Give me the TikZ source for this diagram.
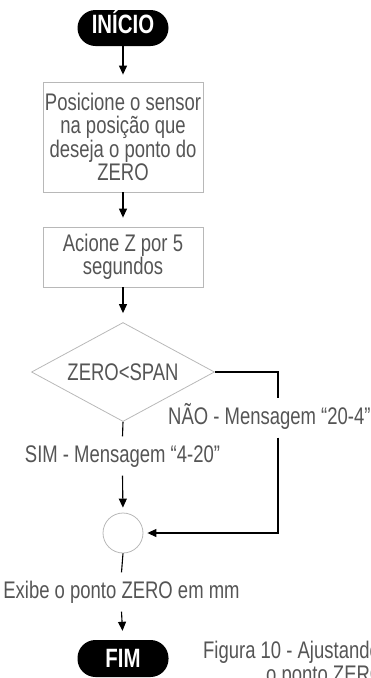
\documentclass[tikz,border=0pt]{standalone}
\usepackage{fontspec}
\setmainfont{Liberation Sans}[FakeStretch=0.77]
\usetikzlibrary{arrows.meta,shapes.geometric}

\definecolor{txtgray}{HTML}{555555}
\definecolor{edgegray}{HTML}{B8B8B8}

\begin{document}
\begin{tikzpicture}[x=1pt,y=-1pt,
  every node/.style={font=\fontsize{24}{23.5}\selectfont, text=txtgray},
  terminal/.style={fill=black, rounded corners=18pt, minimum width=91pt,
    inner sep=0pt, text=white, font=\fontsize{26.5}{26.5}\selectfont\bfseries},
  process/.style={draw=edgegray, line width=0.8pt, minimum width=160pt,
    align=center, inner sep=0pt},
  decision/.style={diamond, draw=edgegray, line width=0.8pt, aspect=1.85,
    minimum width=183pt, minimum height=99pt, inner sep=0pt},
  junction/.style={circle, draw=edgegray, line width=0.8pt, minimum size=40pt,
    inner sep=0pt},
  lbl/.style={inner xsep=0pt, inner ysep=8.5pt, text height=17pt, text depth=5pt,
    fill=white},
  link/.style={draw=black, line width=1.1pt},
  flow/.style={link, -{Triangle[width=8pt,length=9pt]}}
]
\useasboundingbox (0,0) rectangle (371,678);
\clip (0,0) rectangle (371,678);

% steps
\node[terminal, text height=23pt, text depth=13pt] (start) at (123,28) {INÍCIO};
\node[process, minimum height=110pt] (pos) at (123,137)
  {Posicione o sensor\\na posição que\\deseja o ponto do\\ZERO};
\node[process, minimum height=60pt] (act) at (123,257) {Acione Z por 5\\segundos};
\node[decision, text height=17pt, text depth=0pt] (dec) at (123,372) {ZERO<SPAN};
\node[lbl, anchor=base] (sim) at (122.5,462) {SIM - Mensagem “4-20”};
\node[lbl, anchor=base west] (nao) at (168,424) {NÃO - Mensagem “20-4”};
\node[junction] (join) at (123,533) {};
\node[lbl, anchor=base] (exibe) at (121.5,598) {Exibe o ponto ZERO em mm};
\node[terminal, text height=27pt, text depth=10pt] (fim) at (123,658.5) {FIM};
\coordinate (rx) at (278,372);

% caption, two lines; the node's base is that of its last line
\node[anchor=base west, align=left, inner sep=0pt] (cap) at (203,682)
  {Figura 10 - Ajustando\\\hspace*{63pt}o ponto ZERO};

% connectors
\draw[flow, shorten >=7pt] (start) -- (pos);
\draw[flow, shorten >=9pt] (pos) -- (act);
\draw[flow, shorten >=9pt] (act) -- (dec);
\draw[link] (dec.south) -- (sim.north);
\draw[flow, shorten >=5pt] (sim.south) -- (join.north);
\draw[link] (dec.east) -- (rx) -- (rx |- nao.north);
\draw[flow, shorten >=4pt] (rx |- nao.south) |- (join.east);
\draw[link] (join.south) -- (exibe.north);
\draw[flow, shorten >=9pt] (exibe.south) -- (fim.north);
\end{tikzpicture}
\end{document}
